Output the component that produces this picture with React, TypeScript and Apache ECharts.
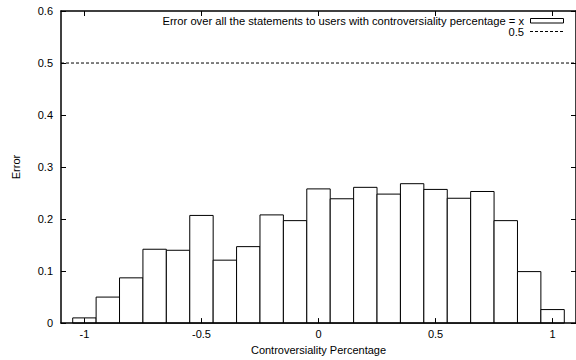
import React, { useEffect, useRef } from "react";
import * as echarts from "echarts";

const binCenters = [-1, -0.9, -0.8, -0.7, -0.6, -0.5, -0.4, -0.3, -0.2, -0.1, 0, 0.1, 0.2, 0.3, 0.4, 0.5, 0.6, 0.7, 0.8, 0.9, 1];
const errorValues = [0.01, 0.05, 0.087, 0.142, 0.14, 0.207, 0.121, 0.147, 0.208, 0.197, 0.258, 0.239, 0.261, 0.248, 0.268, 0.257, 0.24, 0.253, 0.197, 0.099, 0.026];
const binWidth = 0.1;
const refLevel = 0.5;
const xTickValues = [-1, -0.5, 0, 0.5, 1];
const xRange = [-1.1, 1.1];
const yRange = [0, 0.6];
const legendMain = "Error over all the statements to users with controversiality percentage = x";
const legendRef = "0.5";

const FONT = "'Liberation Sans', Arial, Helvetica, sans-serif";

export default function App() {
  const ref = useRef<HTMLDivElement>(null);
  useEffect(() => {
    if (!ref.current) return;
    const chart = echarts.init(ref.current, null, { renderer: "svg" });
    const barData = binCenters.map((x, i) => [x, errorValues[i]]);
    const axisCommonX = {
      type: "value",
      min: xRange[0],
      max: xRange[1],
      z: 10,
      splitLine: { show: false },
    };
    const axisCommonY = {
      type: "value",
      min: yRange[0],
      max: yRange[1],
      interval: 0.1,
      z: 10,
      splitLine: { show: false },
    };
    chart.setOption({
      animation: false,
      backgroundColor: "#fff",
      textStyle: { fontFamily: FONT },
      grid: { left: 61, right: -2, top: 11, bottom: 35 },
      xAxis: [
        {
          ...axisCommonX,
          position: "bottom",
          name: "Controversiality Percentage",
          nameLocation: "middle",
          nameGap: 19,
          nameTextStyle: { color: "#000", fontSize: 11, fontFamily: FONT },
          axisLine: { show: true, onZero: false, lineStyle: { color: "#000", width: 1.5 } },
          axisTick: { show: true, inside: true, length: 5, customValues: xTickValues, lineStyle: { color: "#000", width: 1 } },
          axisLabel: { show: true, customValues: xTickValues, margin: 5, color: "#000", fontSize: 11, fontFamily: FONT },
        },
        {
          ...axisCommonX,
          position: "top",
          axisLine: { show: true, onZero: false, lineStyle: { color: "#000", width: 1.5 } },
          axisTick: { show: true, inside: true, length: 5, customValues: xTickValues, lineStyle: { color: "#000", width: 1 } },
          axisLabel: { show: false },
        },
      ],
      yAxis: [
        {
          ...axisCommonY,
          position: "left",
          name: "Error",
          nameLocation: "middle",
          nameGap: 40,
          nameTextStyle: { color: "#000", fontSize: 11, fontFamily: FONT },
          axisLine: { show: true, onZero: false, lineStyle: { color: "#000", width: 1.5 } },
          axisTick: { show: true, inside: true, length: 5, lineStyle: { color: "#000", width: 1 } },
          axisLabel: { show: true, margin: 8, color: "#000", fontSize: 11, fontFamily: FONT },
        },
        {
          ...axisCommonY,
          position: "right",
          axisLine: { show: true, onZero: false, lineStyle: { color: "#000", width: 1.5 } },
          axisTick: { show: true, inside: true, length: 5, lineStyle: { color: "#000", width: 1 } },
          axisLabel: { show: false },
        },
      ],
      series: [
        {
          type: "custom",
          xAxisIndex: 0,
          yAxisIndex: 0,
          data: barData,
          z: 2,
          renderItem: (params: any, api: any) => {
            const x = api.value(0);
            const y = api.value(1);
            const p0 = api.coord([x - binWidth / 2, 0]);
            const p1 = api.coord([x + binWidth / 2, y]);
            return {
              type: "rect",
              shape: { x: p0[0], y: p1[1], width: p1[0] - p0[0], height: p0[1] - p1[1] },
              style: { fill: "#fff", stroke: "#000", lineWidth: 1 },
            };
          },
        },
        {
          type: "line",
          xAxisIndex: 0,
          yAxisIndex: 0,
          data: [[xRange[0], refLevel], [xRange[1], refLevel]],
          symbol: "none",
          lineStyle: { color: "#000", width: 1, type: [3, 2] },
          z: 3,
        },
      ],
      graphic: [
        {
          type: "text",
          x: 524,
          y: 21,
          style: { text: legendMain, align: "right", verticalAlign: "middle", fill: "#000", fontSize: 11.2, fontFamily: FONT },
        },
        {
          type: "rect",
          shape: { x: 530.5, y: 18.5, width: 33, height: 4.5 },
          style: { fill: "#fff", stroke: "#000", lineWidth: 1 },
        },
        {
          type: "text",
          x: 524,
          y: 31.5,
          style: { text: legendRef, align: "right", verticalAlign: "middle", fill: "#000", fontSize: 11.2, fontFamily: FONT },
        },
        {
          type: "line",
          shape: { x1: 530, y1: 31.5, x2: 564, y2: 31.5 },
          style: { stroke: "#000", lineWidth: 1, lineDash: [3, 2] },
        },
      ],
    });
    return () => chart.dispose();
  }, []);
  return <div ref={ref} style={{ position: "absolute", left: 0, top: 0, width: 576, height: 360 }} />;
}
